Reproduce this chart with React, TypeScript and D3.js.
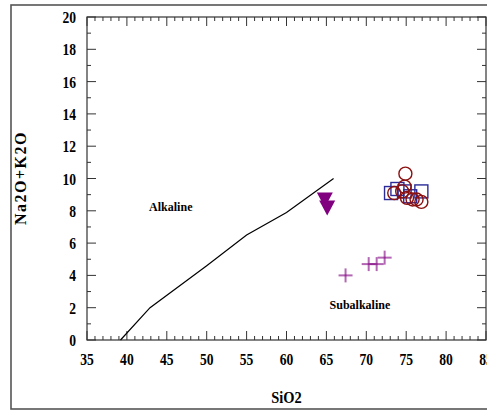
import React from "react";
import * as d3 from "d3";

// Alkaline / subalkaline dividing line (SiO2, Na2O+K2O)
const boundarySiO2 = [39.2, 42.9, 50, 55, 60, 65.9];
const boundaryAlk = [0, 2, 4.6, 6.5, 7.9, 10];

// Sample groups
const triSiO2 = [64.8, 65.1];
const triAlk = [8.7, 8.2];

const crossSiO2 = [67.4, 70.3, 71.3, 72.3];
const crossAlk = [4.0, 4.7, 4.7, 5.1];

const squareSiO2 = [73.1, 73.9, 74.8, 75.5, 76.9];
const squareAlk = [9.1, 9.35, 9.2, 8.9, 9.2];

const circleSiO2 = [74.9, 74.8, 73.5, 74.5, 75.1, 75.8, 76.3, 76.9];
const circleAlk = [10.3, 9.5, 9.1, 9.2, 8.8, 8.7, 8.7, 8.55];

const xTicks = [35, 40, 45, 50, 55, 60, 65, 70, 75, 80, 85];
const yTicks = [0, 2, 4, 6, 8, 10, 12, 14, 16, 18, 20];

const textStyle: React.CSSProperties = {
  fontFamily: "Liberation Serif, Times New Roman, DejaVu Serif, serif",
  fontWeight: 700,
};

export default function App() {
  const W = 487;
  const H = 413;
  const left = 87, right = 486, top = 17, bottom = 340;
  const x = d3.scaleLinear().domain([35, 85]).range([left, right]);
  const y = d3.scaleLinear().domain([0, 20]).range([bottom, top]);

  const line = d3
    .line<number>()
    .x((d) => x(d))
    .y((_, i) => y(boundaryAlk[i]));

  const xMinor = d3.range(35, 86, 1);
  const yMinor = d3.range(0, 21, 1);
  const axisColor = "#333";

  return (
    <div style={{ position: "absolute", left: 0, top: 0 }}>
      <svg width={W} height={H} style={{ display: "block", background: "#fff" }}>
        {/* outer frame */}
        <rect x={11} y={5} width={520} height={404} fill="none" stroke="#555" strokeWidth={1.6} />

        {/* plot box */}
        <rect x={left} y={top} width={right - left} height={bottom - top} fill="none" stroke={axisColor} strokeWidth={1.2} />

        {/* x ticks, bottom and top, pointing inward */}
        {xMinor.map((v) => {
          const major = v % 5 === 0;
          const len = major ? 9 : 4;
          return (
            <g key={"xt" + v} stroke={axisColor} strokeWidth={1}>
              <line x1={x(v)} x2={x(v)} y1={bottom} y2={bottom - len} />
              <line x1={x(v)} x2={x(v)} y1={top} y2={top + len} />
            </g>
          );
        })}
        {/* y ticks, left and right, pointing inward */}
        {yMinor.map((v) => {
          const major = v % 2 === 0;
          const len = major ? 9 : 4;
          return (
            <g key={"yt" + v} stroke={axisColor} strokeWidth={1}>
              <line x1={left} x2={left + len} y1={y(v)} y2={y(v)} />
              <line x1={right} x2={right - len} y1={y(v)} y2={y(v)} />
            </g>
          );
        })}

        {/* tick labels */}
        {xTicks.map((v) => (
          <text
            key={"xl" + v}
            transform={`translate(${x(v)},${365}) scale(0.8,1)`}
            textAnchor="middle"
            style={textStyle}
            fontSize={17}
            fill="#000"
          >
            {v}
          </text>
        ))}
        {yTicks.map((v) => (
          <text
            key={"yl" + v}
            transform={`translate(${76},${y(v) + 6}) scale(0.8,1)`}
            textAnchor="end"
            style={textStyle}
            fontSize={17}
            fill="#000"
          >
            {v}
          </text>
        ))}

        {/* axis titles */}
        <text
          transform={`translate(${x(60)},${403}) scale(0.85,1)`}
          textAnchor="middle"
          style={textStyle}
          fontSize={17}
        >
          SiO2
        </text>
        <text
          transform={`translate(26,${178}) rotate(-90)`}
          textAnchor="middle"
          style={textStyle}
          fontSize={16}
          letterSpacing={1.5}
        >
          Na2O+K2O
        </text>

        {/* field names */}
        <text x={x(45.5)} y={y(8)} textAnchor="middle" style={textStyle} fontSize={12}>
          Alkaline
        </text>
        <text x={x(69.2)} y={y(1.95)} textAnchor="middle" style={textStyle} fontSize={12}>
          Subalkaline
        </text>

        {/* dividing line */}
        <path d={line(boundarySiO2) || ""} fill="none" stroke="#000" strokeWidth={1.2} />

        {/* inverted triangles */}
        {triSiO2.map((v, i) => (
          <path
            key={"tri" + i}
            transform={`translate(${x(v)},${y(triAlk[i])})`}
            d="M-8,-7 L8,-7 L0,8 Z"
            fill="#800080"
          />
        ))}

        {/* crosses */}
        {crossSiO2.map((v, i) => (
          <g
            key={"cr" + i}
            transform={`translate(${x(v)},${y(crossAlk[i])})`}
            stroke="#800080"
            strokeWidth={2}
            strokeOpacity={0.6}
          >
            <line x1={-7} x2={7} y1={0} y2={0} />
            <line x1={0} x2={0} y1={-7} y2={7} />
          </g>
        ))}

        {/* squares */}
        {squareSiO2.map((v, i) => (
          <rect
            key={"sq" + i}
            x={x(v) - 6.5}
            y={y(squareAlk[i]) - 6.5}
            width={13}
            height={13}
            fill="none"
            stroke="#2b2b99"
            strokeWidth={1.4}
          />
        ))}

        {/* circles */}
        {circleSiO2.map((v, i) => (
          <circle
            key={"ci" + i}
            cx={x(v)}
            cy={y(circleAlk[i])}
            r={6.5}
            fill="none"
            stroke="#8b1010"
            strokeWidth={1.4}
          />
        ))}
      </svg>
    </div>
  );
}
